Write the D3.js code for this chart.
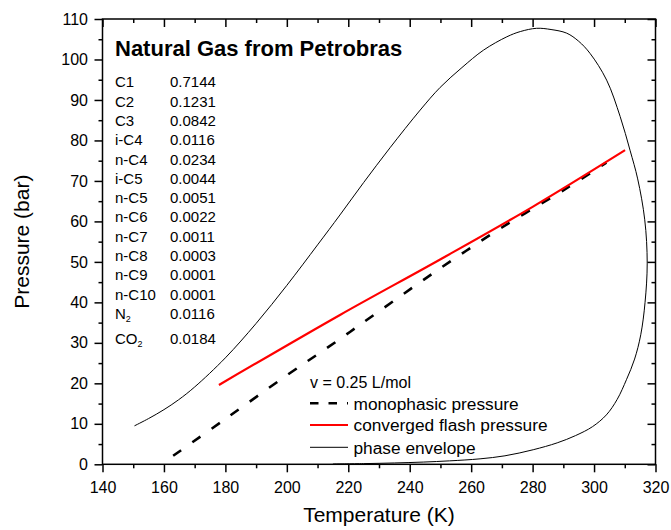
<!DOCTYPE html>
<html><head><meta charset="utf-8">
<script src="https://cdn.jsdelivr.net/npm/d3@7"></script>
<style>body{margin:0;background:#fff}svg{display:block;font-family:"Liberation Sans",Arial,sans-serif}</style>
</head><body><svg id="c" width="671" height="530"></svg>
<script>
// ---- data ----
const envelopeT = [150.4,155,160,164.7,170,180,190,200,210,217.3,225,233.6,243.4,249.9,257,264,271.6,276,281.3,286,291.1,295,298.7,304.1,308.5,311.7,314.2,316.5,317.3,316.6,315.2,313.2,310.6,307.5,304,299.5,294,288,280.2,271,262.9,253,244.4,235,225,215];
const envelopeP = [9.5,11.3,13.5,15.9,19.1,26.3,34.8,44.2,54.2,61.6,69.6,78.2,87.5,93.1,98,102.3,105.6,106.9,107.7,107.4,106.5,104.5,101.5,94.9,85.9,77.6,70.5,60.4,49.7,40,32,26,21,16,12.2,9.3,7.1,5.3,3.6,2.1,1.35,0.85,0.55,0.33,0.17,0.08];
const monoT = [163.0,180,200,215.3,230,249.9,270,291.1,304];
const monoP = [2.1,11.2,22.0,29.9,37.8,48.4,58.5,68.2,74.5];
const flashT = [177.9,217.3,249.9,280,310.1];
const flashP = [19.6,36.9,50.6,63.6,77.6];
const components = ["C1","C2","C3","i-C4","n-C4","i-C5","n-C5","n-C6","n-C7","n-C8","n-C9","n-C10","N|2","CO|2"];
const fractions = ["0.7144","0.1231","0.0842","0.0116","0.0234","0.0044","0.0051","0.0022","0.0011","0.0003","0.0001","0.0001","0.0116","0.0184"];
const xMajor = [140,160,180,200,220,240,260,280,300,320];
const xMinor = [150,170,190,210,230,250,270,290,310];
const yMajor = [0,10,20,30,40,50,60,70,80,90,100,110];
const yMinor = [5,15,25,35,45,55,65,75,85,95,105];
const legendItems = ["monophasic pressure","converged flash pressure","phase envelope"];

// ---- chart ----
const svg = d3.select("#c");
const x = d3.scaleLinear().domain([140,320]).range([102.5,655.5]);
const y = d3.scaleLinear().domain([0,110]).range([464.3,19]);

function styleAxis(g){
  g.select(".domain").remove();
  g.selectAll(".tick line").attr("stroke","#000").attr("stroke-width",1.5);
  g.selectAll("text").attr("fill","#000").attr("font-size",16).attr("font-family","'Liberation Sans',Arial,sans-serif");
}
// bottom
svg.append("g").attr("transform",`translate(0,${y(0)})`)
  .call(d3.axisBottom(x).tickValues(xMajor).tickSize(8).tickPadding(9.5).tickFormat(d3.format("d"))).call(styleAxis);
svg.append("g").attr("transform",`translate(0,${y(0)})`)
  .call(d3.axisBottom(x).tickValues(xMinor).tickSize(4).tickFormat("")).call(styleAxis);
// top (inward)
svg.append("g").attr("transform",`translate(0,${y(110)})`)
  .call(d3.axisTop(x).tickValues(xMajor).tickSize(-8).tickFormat("")).call(styleAxis);
svg.append("g").attr("transform",`translate(0,${y(110)})`)
  .call(d3.axisTop(x).tickValues(xMinor).tickSize(-4).tickFormat("")).call(styleAxis);
// left
svg.append("g").attr("transform",`translate(${x(140)},0)`)
  .call(d3.axisLeft(y).tickValues(yMajor).tickSize(8).tickPadding(6.5).tickFormat(d3.format("d"))).call(styleAxis);
svg.append("g").attr("transform",`translate(${x(140)},0)`)
  .call(d3.axisLeft(y).tickValues(yMinor).tickSize(4).tickFormat("")).call(styleAxis);
// right (inward)
svg.append("g").attr("transform",`translate(${x(320)},0)`)
  .call(d3.axisRight(y).tickValues(yMajor).tickSize(-8).tickFormat("")).call(styleAxis);
svg.append("g").attr("transform",`translate(${x(320)},0)`)
  .call(d3.axisRight(y).tickValues(yMinor).tickSize(-4).tickFormat("")).call(styleAxis);
// frame
svg.append("rect").attr("x",x(140)).attr("y",y(110)).attr("width",x(320)-x(140)).attr("height",y(0)-y(110))
  .attr("fill","none").attr("stroke","#000").attr("stroke-width",1.5);

// curves
const lineCR = d3.line().x(d=>x(d[0])).y(d=>y(d[1])).curve(d3.curveCatmullRom.alpha(0.5));
svg.append("path").datum(envelopeT.map((t,i)=>[t,envelopeP[i]])).attr("d",lineCR)
  .attr("fill","none").attr("stroke","#000").attr("stroke-width",1);
svg.append("path").datum(monoT.map((t,i)=>[t,monoP[i]])).attr("d",lineCR)
  .attr("fill","none").attr("stroke","#000").attr("stroke-width",2.6).attr("stroke-dasharray","10,13.5");
svg.append("path").datum(flashT.map((t,i)=>[t,flashP[i]])).attr("d",lineCR)
  .attr("fill","none").attr("stroke","#ff0000").attr("stroke-width",2.2);

// axis titles
svg.append("text").attr("x",(x(140)+x(320))/2).attr("y",522).attr("text-anchor","middle")
  .attr("font-size",21).text("Temperature (K)");
svg.append("text").attr("transform",`translate(29,${(y(0)+y(110))/2}) rotate(-90)`).attr("text-anchor","middle")
  .attr("font-size",21).text("Pressure (bar)");

// title and composition
svg.append("text").attr("x",115).attr("y",56).attr("font-size",22).attr("font-weight","bold").text("Natural Gas from Petrobras");
const comp = svg.append("g").attr("font-size",15);
components.forEach((c,i)=>{
  const yy = 87.3 + i*19.3 + (i===13?5.7:0);
  const t = comp.append("text").attr("x",115).attr("y",yy);
  const parts = c.split("|");
  t.append("tspan").text(parts[0]);
  if(parts[1]) t.append("tspan").attr("font-size",9).attr("dy",3).text(parts[1]);
  comp.append("text").attr("x",170).attr("y",yy).text(fractions[i]);
});

// legend
const lg = svg.append("g").attr("font-size",17.3);
lg.append("text").attr("x",310).attr("y",388.3).attr("font-size",16).text("v = 0.25 L/mol");
const ly = [403.3,425,447.3];
lg.append("line").attr("x1",310).attr("x2",348).attr("y1",ly[0]).attr("y2",ly[0]).attr("stroke","#000").attr("stroke-width",2.6).attr("stroke-dasharray","8.5,10");
lg.append("line").attr("x1",310).attr("x2",348).attr("y1",ly[1]).attr("y2",ly[1]).attr("stroke","#ff0000").attr("stroke-width",2.2);
lg.append("line").attr("x1",310).attr("x2",348).attr("y1",ly[2]).attr("y2",ly[2]).attr("stroke","#000").attr("stroke-width",1);
legendItems.forEach((s,i)=>{
  lg.append("text").attr("x",353.5).attr("y",ly[i]+6.2).text(s);
});
</script></body></html>
